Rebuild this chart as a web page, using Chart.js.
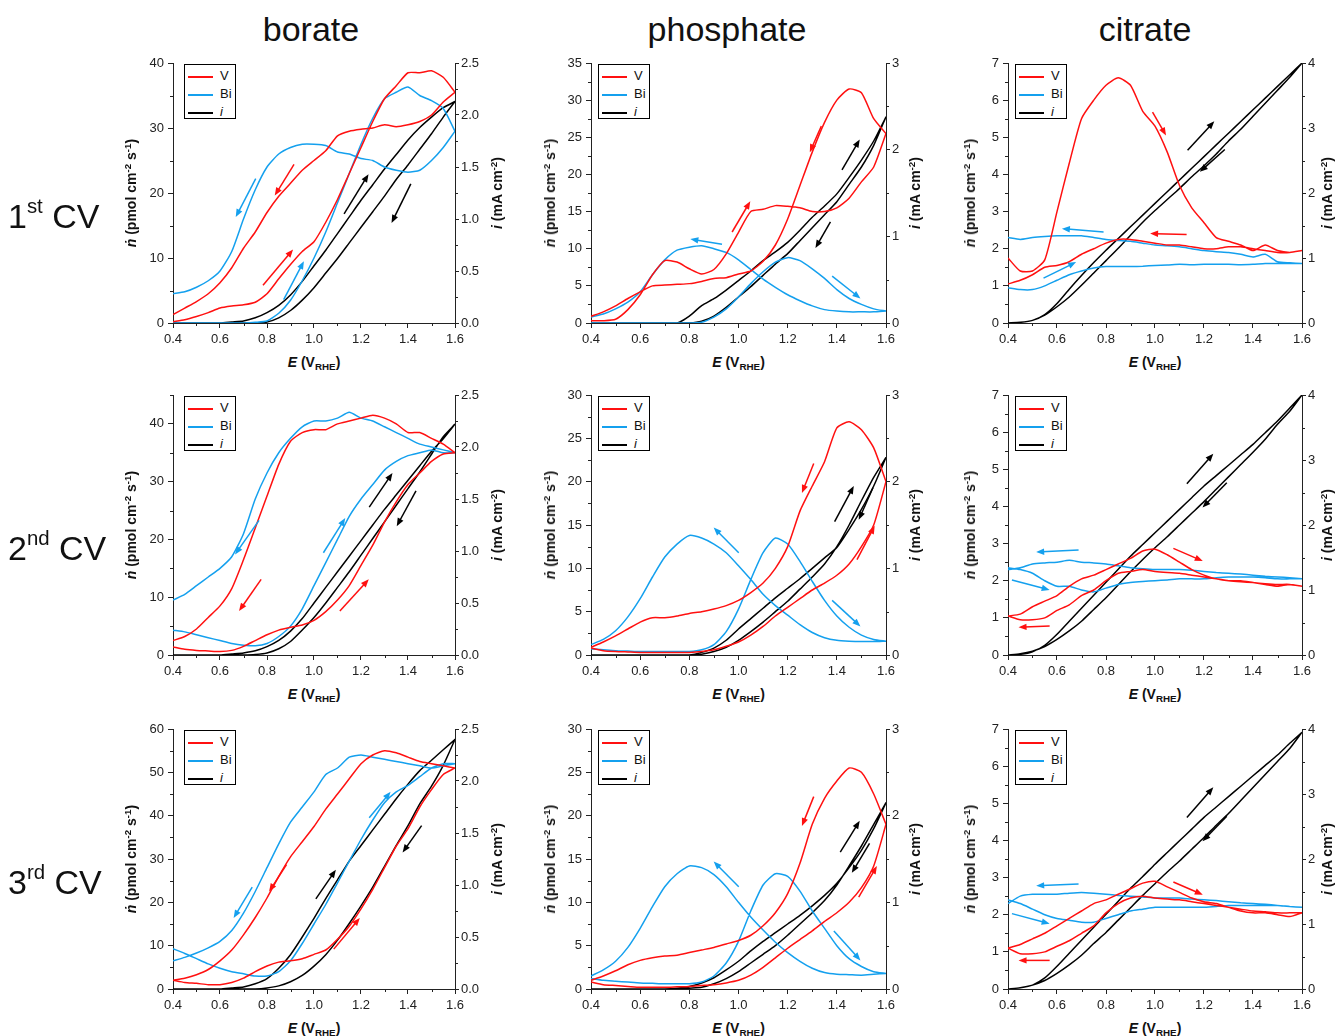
<!DOCTYPE html>
<html lang="en">
<head>
<meta charset="UTF-8">
<title>V / Bi dissolution during CV</title>
<script src="https://cdn.jsdelivr.net/npm/chart.js"></script>
<style>
  body { margin: 0; background: #fff; font-family: "Liberation Sans", Arial, sans-serif; color: #111; }
  #page { position: relative; width: 1336px; height: 1036px; overflow: hidden; }
  canvas { position: absolute; }
  .txt { position: absolute; white-space: nowrap; line-height: 1; }
  .coltitle { font-size: 34px; transform: translateX(-50%); }
  .rowlabel { font-size: 34px; }
  .rowlabel sup { font-size: 60%; vertical-align: 0; position: relative; top: -0.75em; }
  .axtitle { font-size: 14px; font-weight: bold; }
  .axtitle sup { font-size: 70%; vertical-align: 0; position: relative; top: -0.5em; }
  .axtitle sub { font-size: 70%; vertical-align: 0; position: relative; top: 0.3em; }
  .rot { transform: translate(-50%, -50%) rotate(-90deg); }
  .xt { transform: translateX(-50%); }
  .leg { position: absolute; width: 52px; height: 55px; border: 1px solid #000; box-sizing: border-box;
         font-size: 13px; padding-top: 2px; background: #fff; }
  .leg div { height: 18px; line-height: 18px; }
  .sw { display: inline-block; width: 25px; height: 2px; vertical-align: middle; margin: 0 7px 0 3px; }
</style>
</head>
<body>
<div id="page"></div>
<script>
// potential grid (V vs RHE); forward scan 0.4 -> 1.6, reverse scan listed 1.6 -> 0.4
const E = [0.40, 0.45, 0.50, 0.55, 0.60, 0.65, 0.70, 0.75, 0.80, 0.85, 0.90, 0.95, 1.00,
           1.05, 1.10, 1.15, 1.20, 1.25, 1.30, 1.35, 1.40, 1.45, 1.50, 1.55, 1.60];
const E_REV = E.slice().reverse();

// ---- borate, 1st CV ----
const b1_V_fwd  = [0.2, 0.5, 1.0, 1.6, 2.3, 2.6, 2.8, 3.2, 4.5, 6.8, 9.0, 11.0, 12.5, 15.5, 19.0, 23.0, 27.0, 31.0, 34.5, 36.5, 38.5, 38.5, 38.8, 37.8, 35.5];
const b1_V_rev  = [35.5, 34.0, 32.0, 31.0, 30.5, 30.2, 30.5, 30.0, 29.8, 29.5, 28.8, 26.5, 25.0, 23.5, 21.5, 19.5, 17.0, 14.0, 11.5, 8.5, 6.2, 4.5, 3.3, 2.3, 1.3];
const b1_Bi_fwd = [0, 0, 0, 0, 0, 0, 0, 0.1, 0.3, 1.5, 3.5, 6.5, 10.0, 14.0, 18.5, 23.0, 27.5, 31.5, 34.5, 35.5, 36.3, 35.0, 34.2, 33.0, 29.5];
const b1_Bi_rev = [29.5, 27.0, 25.0, 23.5, 23.2, 23.5, 24.0, 25.0, 25.3, 26.0, 26.3, 27.3, 27.5, 27.5, 27.0, 26.0, 24.0, 20.5, 16.0, 11.0, 8.0, 6.5, 5.5, 4.8, 4.5];
const b1_i_fwd  = [0, 0, 0, 0, 0, 0.01, 0.02, 0.05, 0.1, 0.17, 0.27, 0.4, 0.55, 0.7, 0.86, 1.02, 1.18, 1.33, 1.48, 1.62, 1.76, 1.88, 1.98, 2.07, 2.13];
const b1_i_rev  = [2.13, 1.98, 1.82, 1.67, 1.52, 1.38, 1.22, 1.07, 0.92, 0.77, 0.62, 0.48, 0.34, 0.22, 0.12, 0.05, 0.01, 0, 0, 0, 0, 0, 0, 0, 0];
const b1_arrows = [[0.752, 22.2, 0.667, 16.3, 'b'], [0.915, 24.4, 0.833, 19.6, 'r'], [0.783, 5.8, 0.911, 11.3, 'r'],
                   [0.871, 3.6, 0.957, 9.5, 'b'], [1.128, 16.8, 1.232, 22.9, 'k'], [1.412, 21.4, 1.330, 15.4, 'k']];

// ---- phosphate, 1st CV ----
const p1_V_fwd  = [0.3, 0.3, 0.5, 1.8, 3.8, 6.5, 8.4, 8.2, 7.3, 6.6, 7.2, 9.3, 12.2, 15.0, 15.3, 15.8, 15.7, 15.5, 15.0, 15.0, 15.5, 16.8, 19.0, 21.0, 25.5];
const p1_V_rev  = [25.5, 27.5, 31.0, 31.5, 30.0, 27.0, 23.0, 18.5, 14.0, 10.5, 8.3, 7.0, 6.6, 6.1, 6.0, 5.6, 5.3, 5.2, 5.1, 5.0, 4.2, 3.3, 2.3, 1.5, 0.9];
const p1_Bi_fwd = [0, 0, 0, 0, 0, 0, 0, 0, 0, 0.1, 0.8, 1.9, 3.5, 5.3, 6.9, 8.2, 8.8, 8.4, 7.3, 6.0, 4.5, 3.3, 2.5, 1.9, 1.6];
const p1_Bi_rev = [1.6, 1.5, 1.5, 1.5, 1.6, 1.8, 2.3, 3.0, 3.8, 4.8, 5.9, 7.2, 8.5, 9.5, 10.0, 10.4, 10.2, 9.8, 8.5, 6.5, 4.2, 2.8, 1.9, 1.2, 0.8];
const p1_i_fwd  = [0, 0, 0, 0, 0, 0, 0, 0, 0.08, 0.2, 0.28, 0.38, 0.49, 0.6, 0.72, 0.82, 0.93, 1.07, 1.22, 1.35, 1.49, 1.68, 1.88, 2.1, 2.38];
const p1_i_rev  = [2.38, 2.05, 1.8, 1.6, 1.4, 1.25, 1.1, 0.95, 0.8, 0.68, 0.55, 0.42, 0.3, 0.18, 0.08, 0.02, 0, 0, 0, 0, 0, 0, 0, 0, 0];
const p1_arrows = [[0.974, 12.25, 1.048, 16.4, 'r'], [1.337, 26.5, 1.29, 23.0, 'r'], [0.933, 10.6, 0.804, 11.3, 'b'],
                   [1.381, 6.3, 1.496, 3.3, 'b'], [1.421, 20.6, 1.493, 24.7, 'k'], [1.374, 13.6, 1.313, 10.1, 'k']];

// ---- citrate, 1st CV ----
const c1_V_fwd  = [1.75, 1.4, 1.4, 1.7, 3.0, 4.3, 5.5, 6.0, 6.4, 6.6, 6.4, 5.7, 5.3, 4.6, 3.7, 3.1, 2.7, 2.3, 2.2, 2.1, 1.95, 2.1, 1.95, 1.9, 1.95];
const c1_V_rev  = [1.95, 1.9, 1.9, 1.95, 2.0, 2.05, 2.05, 2.0, 2.0, 2.05, 2.1, 2.1, 2.15, 2.2, 2.25, 2.25, 2.15, 2.0, 1.85, 1.65, 1.55, 1.5, 1.3, 1.15, 1.05];
const c1_Bi_fwd = [0.95, 0.9, 0.9, 1.0, 1.15, 1.3, 1.4, 1.48, 1.52, 1.52, 1.52, 1.53, 1.55, 1.56, 1.58, 1.57, 1.58, 1.58, 1.58, 1.57, 1.58, 1.6, 1.6, 1.6, 1.6];
const c1_Bi_rev = [1.6, 1.62, 1.65, 1.85, 1.78, 1.85, 1.9, 1.92, 1.95, 2.0, 2.05, 2.08, 2.1, 2.15, 2.2, 2.22, 2.25, 2.3, 2.35, 2.35, 2.35, 2.33, 2.3, 2.25, 2.3];
const c1_i_fwd  = [0, 0.01, 0.04, 0.13, 0.3, 0.52, 0.73, 0.93, 1.12, 1.3, 1.48, 1.66, 1.84, 2.02, 2.2, 2.38, 2.56, 2.74, 2.92, 3.1, 3.28, 3.46, 3.64, 3.82, 4.0];
const c1_i_rev  = [4.0, 3.78, 3.58, 3.38, 3.18, 2.98, 2.8, 2.6, 2.42, 2.25, 2.07, 1.9, 1.73, 1.55, 1.35, 1.15, 0.96, 0.77, 0.58, 0.4, 0.25, 0.12, 0.04, 0.01, 0];
const c1_arrows = [[0.99, 5.68, 1.045, 5.05, 'r'], [1.129, 2.38, 0.98, 2.41, 'r'], [0.79, 2.45, 0.62, 2.54, 'b'],
                   [0.545, 1.21, 0.678, 1.64, 'b'], [1.133, 4.65, 1.242, 5.43, 'k'], [1.285, 4.67, 1.183, 4.07, 'k']];

// ---- borate, 2nd CV ----
const b2_V_fwd  = [1.4, 1.0, 0.8, 0.7, 0.6, 0.8, 1.5, 2.5, 3.5, 4.3, 4.8, 5.2, 6.0, 7.5, 9.5, 12.0, 15.5, 19.0, 23.0, 26.5, 29.5, 31.5, 33.5, 34.8, 35.0];
const b2_V_rev  = [35.0, 36.5, 37.5, 38.5, 38.5, 40.0, 41.0, 41.5, 41.0, 40.5, 40.0, 39.0, 39.0, 38.5, 37.0, 33.0, 27.5, 22.0, 16.5, 11.5, 8.5, 6.5, 4.5, 3.2, 2.5];
const b2_Bi_fwd = [4.3, 4.0, 3.5, 3.0, 2.5, 2.0, 1.7, 1.6, 2.0, 3.2, 5.0, 8.0, 12.0, 16.0, 20.0, 24.0, 27.0, 29.5, 32.0, 33.5, 34.5, 35.0, 35.5, 35.0, 35.0];
const b2_Bi_rev = [35.0, 35.5, 36.0, 36.5, 37.5, 38.5, 39.5, 40.5, 41.0, 42.0, 41.0, 40.5, 40.5, 39.5, 37.5, 35.0, 31.5, 27.0, 21.0, 17.0, 15.0, 13.5, 12.0, 10.5, 9.5];
const b2_i_fwd  = [0, 0, 0, 0, 0, 0.01, 0.02, 0.04, 0.08, 0.14, 0.23, 0.35, 0.5, 0.65, 0.8, 0.95, 1.1, 1.25, 1.4, 1.54, 1.68, 1.82, 1.96, 2.08, 2.22];
const b2_i_rev  = [2.22, 2.1, 1.93, 1.76, 1.6, 1.44, 1.28, 1.12, 0.96, 0.8, 0.65, 0.5, 0.36, 0.24, 0.13, 0.06, 0.02, 0.005, 0, 0, 0, 0, 0, 0, 0];
const b2_arrows = [[0.775, 13.1, 0.681, 7.6, 'r'], [1.11, 7.6, 1.233, 13.1, 'r'], [0.766, 23.3, 0.664, 17.4, 'b'],
                   [1.04, 17.7, 1.133, 23.7, 'b'], [1.235, 25.6, 1.334, 31.5, 'k'], [1.434, 28.4, 1.352, 22.3, 'k']];

// ---- phosphate, 2nd CV ----
const p2_V_fwd  = [0.8, 0.5, 0.4, 0.35, 0.3, 0.3, 0.3, 0.3, 0.3, 0.4, 0.6, 1.0, 1.5, 2.3, 3.3, 4.5, 5.5, 6.5, 7.5, 8.3, 9.2, 10.5, 12.5, 15.0, 20.0];
const p2_V_rev  = [20.0, 23.9, 26.0, 26.9, 26.2, 22.3, 19.5, 16.6, 12.5, 10.0, 8.3, 7.2, 6.3, 5.7, 5.3, 5.0, 4.8, 4.5, 4.3, 4.3, 3.8, 3.0, 2.2, 1.5, 0.9];
const p2_Bi_fwd = [0.7, 0.6, 0.5, 0.45, 0.4, 0.4, 0.4, 0.4, 0.4, 0.6, 1.2, 2.7, 5.3, 8.7, 11.8, 13.5, 12.8, 10.8, 8.5, 6.3, 4.5, 3.2, 2.3, 1.8, 1.6];
const p2_Bi_rev = [1.6, 1.55, 1.55, 1.6, 1.7, 2.0, 2.6, 3.5, 4.6, 5.7, 7.0, 8.7, 10.3, 11.8, 12.8, 13.5, 13.8, 12.8, 11.3, 9.0, 6.5, 4.4, 2.8, 1.8, 1.2];
const p2_i_fwd  = [0, 0, 0, 0, 0, 0, 0, 0, 0, 0.03, 0.08, 0.17, 0.3, 0.42, 0.54, 0.66, 0.77, 0.88, 1.0, 1.12, 1.24, 1.45, 1.68, 1.95, 2.28];
const p2_i_rev  = [2.28, 2.05, 1.78, 1.5, 1.25, 1.05, 0.9, 0.76, 0.62, 0.5, 0.38, 0.27, 0.17, 0.09, 0.04, 0.01, 0, 0, 0, 0, 0, 0, 0, 0, 0];
const p2_arrows = [[1.306, 22.1, 1.258, 18.7, 'r'], [1.482, 11.0, 1.554, 14.9, 'r'], [1.001, 11.8, 0.899, 14.7, 'b'],
                   [1.381, 6.3, 1.496, 3.3, 'b'], [1.391, 15.4, 1.469, 19.5, 'k'], [1.547, 19.3, 1.489, 15.6, 'k']];

// ---- citrate, 2nd CV ----
const c2_V_fwd  = [1.05, 1.1, 1.3, 1.45, 1.6, 1.85, 2.05, 2.15, 2.3, 2.45, 2.6, 2.8, 2.85, 2.7, 2.5, 2.3, 2.15, 2.05, 2.0, 2.0, 1.95, 1.9, 1.85, 1.9, 1.85];
const c2_V_rev  = [1.85, 1.9, 1.9, 1.92, 1.95, 1.97, 2.0, 2.05, 2.1, 2.15, 2.2, 2.22, 2.25, 2.3, 2.25, 2.2, 2.0, 1.75, 1.6, 1.35, 1.2, 1.0, 0.95, 0.95, 1.05];
const c2_Bi_fwd = [2.35, 2.3, 2.2, 2.0, 1.85, 1.85, 1.75, 1.7, 1.8, 1.9, 1.95, 1.98, 2.0, 2.02, 2.05, 2.05, 2.05, 2.08, 2.1, 2.1, 2.1, 2.08, 2.05, 2.05, 2.05];
const c2_Bi_rev = [2.05, 2.08, 2.1, 2.12, 2.15, 2.18, 2.2, 2.22, 2.25, 2.28, 2.3, 2.3, 2.3, 2.32, 2.35, 2.4, 2.45, 2.48, 2.5, 2.55, 2.5, 2.48, 2.45, 2.35, 2.3];
const c2_i_fwd  = [0, 0.01, 0.05, 0.15, 0.32, 0.52, 0.72, 0.92, 1.12, 1.32, 1.52, 1.7, 1.88, 2.06, 2.24, 2.42, 2.6, 2.76, 2.92, 3.08, 3.24, 3.42, 3.6, 3.8, 4.0];
const c2_i_rev  = [4.0, 3.75, 3.55, 3.32, 3.12, 2.93, 2.74, 2.55, 2.36, 2.18, 2.0, 1.82, 1.65, 1.47, 1.28, 1.08, 0.88, 0.7, 0.52, 0.37, 0.24, 0.13, 0.06, 0.02, 0];
const c2_arrows = [[1.075, 2.87, 1.195, 2.53, 'r'], [0.57, 0.78, 0.443, 0.75, 'r'], [0.688, 2.83, 0.515, 2.77, 'b'],
                   [0.416, 2.02, 0.57, 1.75, 'b'], [1.13, 4.61, 1.238, 5.42, 'k'], [1.293, 4.64, 1.194, 3.97, 'k']];

// ---- borate, 3rd CV ----
const b3_V_fwd  = [2.0, 1.5, 1.3, 1.0, 1.0, 1.5, 2.5, 4.0, 5.3, 6.2, 6.5, 7.0, 8.0, 9.0, 11.5, 14.5, 18.5, 23.0, 28.0, 33.0, 37.0, 42.0, 46.0, 49.5, 51.0];
const b3_V_rev  = [51.0, 51.5, 52.0, 52.5, 53.5, 54.5, 55.0, 54.0, 52.0, 48.5, 45.0, 41.5, 37.5, 34.0, 30.5, 26.0, 21.0, 16.5, 12.5, 9.0, 6.5, 4.5, 3.3, 2.5, 2.0];
const b3_Bi_fwd = [9.3, 8.2, 7.0, 5.8, 4.8, 4.0, 3.5, 3.0, 3.0, 4.0, 6.5, 10.5, 15.0, 19.5, 24.5, 29.5, 34.5, 39.0, 43.0, 45.5, 47.0, 49.0, 51.0, 52.0, 52.0];
const b3_Bi_rev = [52.0, 51.5, 51.0, 51.5, 52.0, 52.5, 53.0, 53.5, 54.0, 53.5, 51.0, 49.5, 45.5, 42.0, 38.5, 33.5, 28.0, 22.5, 17.5, 13.5, 11.0, 9.5, 8.3, 7.3, 6.5];
const b3_i_fwd  = [0, 0, 0, 0, 0, 0.01, 0.02, 0.05, 0.1, 0.2, 0.33, 0.5, 0.68, 0.87, 1.05, 1.23, 1.38, 1.53, 1.68, 1.83, 1.97, 2.1, 2.2, 2.3, 2.4];
const b3_i_rev  = [2.4, 2.15, 1.95, 1.78, 1.57, 1.38, 1.18, 0.98, 0.8, 0.63, 0.47, 0.33, 0.22, 0.13, 0.07, 0.03, 0.01, 0, 0, 0, 0, 0, 0, 0, 0];
const b3_arrows = [[0.883, 28.7, 0.809, 22.5, 'r'], [1.084, 9.2, 1.195, 16.4, 'r'], [0.737, 23.5, 0.658, 16.4, 'b'],
                   [1.235, 39.5, 1.326, 45.5, 'b'], [1.008, 20.8, 1.093, 27.5, 'k'], [1.458, 37.7, 1.377, 31.5, 'k']];

// ---- phosphate, 3rd CV ----
const p3_V_fwd  = [0.8, 0.5, 0.4, 0.3, 0.2, 0.2, 0.2, 0.25, 0.3, 0.4, 0.5, 0.7, 1.0, 1.6, 2.5, 3.6, 4.7, 5.7, 6.7, 7.8, 8.8, 10.0, 11.7, 14.2, 19.0];
const p3_V_rev  = [19.0, 22.5, 25.0, 25.5, 24.0, 22.0, 19.0, 14.5, 11.0, 8.8, 7.3, 6.2, 5.6, 5.2, 4.8, 4.5, 4.2, 3.9, 3.8, 3.6, 3.3, 2.8, 2.1, 1.5, 1.0];
const p3_Bi_fwd = [1.2, 1.0, 0.9, 0.8, 0.7, 0.65, 0.6, 0.6, 0.6, 0.8, 1.5, 3.0, 5.5, 9.0, 12.0, 13.3, 13.0, 11.3, 9.0, 7.0, 5.0, 3.5, 2.6, 2.0, 1.8];
const p3_Bi_rev = [1.8, 1.7, 1.6, 1.65, 1.7, 1.9, 2.4, 3.2, 4.2, 5.4, 6.8, 8.3, 10.0, 11.8, 13.2, 14.0, 14.2, 13.3, 11.8, 9.5, 7.0, 4.8, 3.2, 2.2, 1.5];
const p3_i_fwd  = [0, 0, 0, 0, 0, 0, 0, 0.01, 0.03, 0.07, 0.13, 0.22, 0.32, 0.44, 0.55, 0.65, 0.75, 0.85, 0.96, 1.08, 1.22, 1.4, 1.6, 1.85, 2.15];
const p3_i_rev  = [2.15, 1.9, 1.65, 1.42, 1.2, 1.02, 0.88, 0.75, 0.62, 0.5, 0.4, 0.3, 0.2, 0.12, 0.06, 0.02, 0.01, 0, 0, 0, 0, 0, 0, 0, 0];
const p3_arrows = [[1.306, 22.2, 1.258, 18.8, 'r'], [1.489, 10.6, 1.563, 14.2, 'r'], [1.001, 11.8, 0.899, 14.7, 'b'],
                   [1.388, 6.7, 1.496, 3.3, 'b'], [1.414, 15.8, 1.493, 19.4, 'k'], [1.533, 16.8, 1.461, 13.4, 'k']];

// ---- citrate, 3rd CV ----
const c3_V_fwd  = [1.1, 1.2, 1.35, 1.5, 1.7, 1.9, 2.1, 2.3, 2.4, 2.55, 2.7, 2.85, 2.9, 2.75, 2.6, 2.45, 2.35, 2.3, 2.2, 2.1, 2.05, 2.05, 2.0, 1.95, 2.05];
const c3_V_rev  = [2.05, 2.05, 2.05, 2.08, 2.1, 2.15, 2.2, 2.25, 2.3, 2.35, 2.4, 2.42, 2.45, 2.5, 2.45, 2.3, 2.05, 1.7, 1.5, 1.3, 1.15, 1.0, 0.95, 0.95, 1.1];
const c3_Bi_fwd = [2.4, 2.3, 2.15, 2.0, 1.9, 1.85, 1.8, 1.8, 1.9, 2.0, 2.1, 2.15, 2.2, 2.2, 2.2, 2.2, 2.2, 2.22, 2.25, 2.25, 2.25, 2.25, 2.25, 2.22, 2.2];
const c3_Bi_rev = [2.2, 2.22, 2.25, 2.28, 2.3, 2.32, 2.35, 2.38, 2.4, 2.42, 2.45, 2.45, 2.45, 2.48, 2.5, 2.52, 2.55, 2.58, 2.6, 2.58, 2.55, 2.55, 2.55, 2.5, 2.3];
const c3_i_fwd  = [0, 0.02, 0.06, 0.17, 0.35, 0.55, 0.75, 0.95, 1.15, 1.35, 1.55, 1.73, 1.92, 2.1, 2.28, 2.46, 2.64, 2.8, 2.96, 3.12, 3.28, 3.44, 3.6, 3.78, 3.95];
const c3_i_rev  = [3.95, 3.7, 3.5, 3.3, 3.1, 2.9, 2.7, 2.52, 2.33, 2.15, 1.97, 1.8, 1.62, 1.44, 1.25, 1.06, 0.87, 0.7, 0.52, 0.37, 0.24, 0.13, 0.06, 0.02, 0];
const c3_arrows = [[1.075, 2.88, 1.195, 2.54, 'r'], [0.57, 0.77, 0.443, 0.77, 'r'], [0.688, 2.83, 0.515, 2.78, 'b'],
                   [0.416, 2.03, 0.57, 1.76, 'b'], [1.13, 4.62, 1.238, 5.43, 'k'], [1.293, 4.65, 1.194, 3.98, 'k']];

// tick labels
const xTicks = [0.4, 0.6, 0.8, 1.0, 1.2, 1.4, 1.6];
const borateTicks = [0, 10, 20, 30, 40];
const borate3Ticks = [0, 10, 20, 30, 40, 50, 60];
const borateCurTicks = [0, 0.5, 1.0, 1.5, 2.0, 2.5];
const phos1Ticks = [0, 5, 10, 15, 20, 25, 30, 35];
const phosTicks = [0, 5, 10, 15, 20, 25, 30];
const phosCurTicks = [0, 1, 2, 3];
const citTicks = [0, 1, 2, 3, 4, 5, 6, 7];
const citCurTicks = [0, 1, 2, 3, 4];

const columns = ['borate', 'phosphate', 'citrate'];
const rowNames = [['1', 'st'], ['2', 'nd'], ['3', 'rd']];

const RED = '#ff1010', BLUE = '#14a0ee', BLACK = '#000000', AXIS = '#222222';
const ARROW_COL = { r: RED, b: BLUE, k: BLACK };
const FONT = '"Liberation Sans", Arial, sans-serif';

// page layout (pixels)
const colLeft = [173, 591, 1008], colWidth = [282, 295, 294];
const rowTop = [63, 395, 729], plotH = 260;
const colTitleX = [311, 727, 1145];
const legendDx = [11, 7, 7], leftTitleDx = [42, 41, 38], rightTitleDx = [42, 29, 25];
const PAD_L = 50, PAD_R = 50, PAD_T = 12, PAD_B = 26;

const panels = [
  { r: 0, c: 0, V: [b1_V_fwd, b1_V_rev], Bi: [b1_Bi_fwd, b1_Bi_rev], I: [b1_i_fwd, b1_i_rev], arrows: b1_arrows,
    yMax: 40, yTicks: borateTicks, yMinor: 5, y2Max: 2.5, y2Ticks: borateCurTicks, y2Minor: 0.25, y2Dec: 1 },
  { r: 0, c: 1, V: [p1_V_fwd, p1_V_rev], Bi: [p1_Bi_fwd, p1_Bi_rev], I: [p1_i_fwd, p1_i_rev], arrows: p1_arrows,
    yMax: 35, yTicks: phos1Ticks, yMinor: 2.5, y2Max: 3, y2Ticks: phosCurTicks, y2Minor: 0.5, y2Dec: 0 },
  { r: 0, c: 2, V: [c1_V_fwd, c1_V_rev], Bi: [c1_Bi_fwd, c1_Bi_rev], I: [c1_i_fwd, c1_i_rev], arrows: c1_arrows,
    yMax: 7, yTicks: citTicks, yMinor: 0.5, y2Max: 4, y2Ticks: citCurTicks, y2Minor: 0.5, y2Dec: 0 },
  { r: 1, c: 0, V: [b2_V_fwd, b2_V_rev], Bi: [b2_Bi_fwd, b2_Bi_rev], I: [b2_i_fwd, b2_i_rev], arrows: b2_arrows,
    yMax: 45, yTicks: borateTicks, yMinor: 5, y2Max: 2.5, y2Ticks: borateCurTicks, y2Minor: 0.25, y2Dec: 1 },
  { r: 1, c: 1, V: [p2_V_fwd, p2_V_rev], Bi: [p2_Bi_fwd, p2_Bi_rev], I: [p2_i_fwd, p2_i_rev], arrows: p2_arrows,
    yMax: 30, yTicks: phosTicks, yMinor: 2.5, y2Max: 3, y2Ticks: phosCurTicks, y2Minor: 0.5, y2Dec: 0 },
  { r: 1, c: 2, V: [c2_V_fwd, c2_V_rev], Bi: [c2_Bi_fwd, c2_Bi_rev], I: [c2_i_fwd, c2_i_rev], arrows: c2_arrows,
    yMax: 7, yTicks: citTicks, yMinor: 0.5, y2Max: 4, y2Ticks: citCurTicks, y2Minor: 0.5, y2Dec: 0 },
  { r: 2, c: 0, V: [b3_V_fwd, b3_V_rev], Bi: [b3_Bi_fwd, b3_Bi_rev], I: [b3_i_fwd, b3_i_rev], arrows: b3_arrows,
    yMax: 60, yTicks: borate3Ticks, yMinor: 5, y2Max: 2.5, y2Ticks: borateCurTicks, y2Minor: 0.25, y2Dec: 1 },
  { r: 2, c: 1, V: [p3_V_fwd, p3_V_rev], Bi: [p3_Bi_fwd, p3_Bi_rev], I: [p3_i_fwd, p3_i_rev], arrows: p3_arrows,
    yMax: 30, yTicks: phosTicks, yMinor: 2.5, y2Max: 3, y2Ticks: phosCurTicks, y2Minor: 0.5, y2Dec: 0 },
  { r: 2, c: 2, V: [c3_V_fwd, c3_V_rev], Bi: [c3_Bi_fwd, c3_Bi_rev], I: [c3_i_fwd, c3_i_rev], arrows: c3_arrows,
    yMax: 7, yTicks: citTicks, yMinor: 0.5, y2Max: 4, y2Ticks: citCurTicks, y2Minor: 0.5, y2Dec: 0 }
];

const page = document.getElementById('page');

function addText(html, x, y, cls) {
  const d = document.createElement('div');
  d.className = 'txt ' + cls;
  d.style.left = x + 'px';
  d.style.top = y + 'px';
  d.innerHTML = html;
  page.appendChild(d);
  return d;
}

// forward scan followed by reverse scan, as one closed CV trace
function loop(fwd, rev) {
  return E.map((x, k) => ({ x: x, y: fwd[k] })).concat(E_REV.map((x, k) => ({ x: x, y: rev[k] })));
}

// minor tick marks half way between the labelled ones
function minorTicksPlugin(steps) {
  return {
    id: 'minorTicks',
    afterDraw(chart) {
      const ctx = chart.ctx, area = chart.chartArea;
      ctx.save();
      ctx.strokeStyle = AXIS;
      ctx.lineWidth = 1;
      for (const id in steps) {
        const s = chart.scales[id], step = steps[id];
        const n = Math.round((s.max - s.min) / step);
        for (let k = 0; k <= n; k++) {
          if (k % 2 === 0) continue;
          const p = Math.round(s.getPixelForValue(s.min + k * step)) + 0.5;
          ctx.beginPath();
          if (id === 'x') { ctx.moveTo(p, area.bottom); ctx.lineTo(p, area.bottom + 3); }
          else if (id === 'y') { ctx.moveTo(area.left, p); ctx.lineTo(area.left - 3, p); }
          else { ctx.moveTo(area.right, p); ctx.lineTo(area.right + 3, p); }
          ctx.stroke();
        }
      }
      ctx.restore();
    }
  };
}

// scan direction arrows, given in (E, left-axis) units
function arrowsPlugin(list) {
  return {
    id: 'cvArrows',
    afterDatasetsDraw(chart) {
      const ctx = chart.ctx, xs = chart.scales.x, ys = chart.scales.y;
      ctx.save();
      list.forEach(a => {
        const x1 = xs.getPixelForValue(a[0]), y1 = ys.getPixelForValue(a[1]);
        const x2 = xs.getPixelForValue(a[2]), y2 = ys.getPixelForValue(a[3]);
        const ang = Math.atan2(y2 - y1, x2 - x1), L = 8, W = 3.2;
        const ca = Math.cos(ang), sa = Math.sin(ang);
        ctx.strokeStyle = ARROW_COL[a[4]];
        ctx.fillStyle = ARROW_COL[a[4]];
        ctx.lineWidth = 1.5;
        ctx.beginPath();
        ctx.moveTo(x1, y1);
        ctx.lineTo(x2 - L * 0.7 * ca, y2 - L * 0.7 * sa);
        ctx.stroke();
        ctx.beginPath();
        ctx.moveTo(x2, y2);
        ctx.lineTo(x2 - L * ca + W * sa, y2 - L * sa - W * ca);
        ctx.lineTo(x2 - L * ca - W * sa, y2 - L * sa + W * ca);
        ctx.closePath();
        ctx.fill();
      });
      ctx.restore();
    }
  };
}

function axis(position, min, max, ticks, dec, fitFn, tickLen, pad) {
  return {
    type: 'linear', position: position, min: min, max: max,
    afterBuildTicks: s => { s.ticks = ticks.map(v => ({ value: v })); },
    afterFit: fitFn,
    ticks: {
      callback: v => Number(v).toFixed(dec),
      font: { family: FONT, size: 13 }, color: AXIS, padding: pad,
      autoSkip: false, maxRotation: 0
    },
    grid: { drawOnChartArea: false, drawTicks: true, tickLength: tickLen, color: AXIS, lineWidth: 1 },
    border: { display: true, color: AXIS, width: 1 }
  };
}

panels.forEach(p => {
  const left = colLeft[p.c], top = rowTop[p.r], w = colWidth[p.c];
  const cv = document.createElement('canvas');
  cv.width = w + PAD_L + PAD_R;
  cv.height = plotH + PAD_T + PAD_B;
  cv.style.left = (left - PAD_L) + 'px';
  cv.style.top = (top - PAD_T) + 'px';
  page.appendChild(cv);

  const line = { pointRadius: 0, borderWidth: 1.5, tension: 0.2, fill: false };
  new Chart(cv, {
    type: 'line',
    data: {
      datasets: [
        Object.assign({ label: 'V', data: loop(p.V[0], p.V[1]), borderColor: RED, yAxisID: 'y' }, line),
        Object.assign({ label: 'Bi', data: loop(p.Bi[0], p.Bi[1]), borderColor: BLUE, yAxisID: 'y' }, line),
        Object.assign({ label: 'i', data: loop(p.I[0], p.I[1]), borderColor: BLACK, yAxisID: 'y2' }, line)
      ]
    },
    options: {
      responsive: false, animation: false, devicePixelRatio: 1,
      layout: { padding: { top: PAD_T, left: 0, right: 0, bottom: 0 } },
      plugins: { legend: { display: false }, tooltip: { enabled: false } },
      scales: {
        x: axis('bottom', 0.4, 1.6, xTicks, 1, s => { s.height = PAD_B; }, 5, 4),
        y: axis('left', 0, p.yMax, p.yTicks, 0, s => { s.width = PAD_L; }, 5, 4),
        y2: axis('right', 0, p.y2Max, p.y2Ticks, p.y2Dec, s => { s.width = PAD_R; }, 4, 2)
      }
    },
    plugins: [minorTicksPlugin({ x: 0.1, y: p.yMinor, y2: p.y2Minor }), arrowsPlugin(p.arrows)]
  });

  // legend box
  const leg = document.createElement('div');
  leg.className = 'leg';
  leg.style.left = (left + legendDx[p.c]) + 'px';
  leg.style.top = (top + 1) + 'px';
  leg.innerHTML =
    '<div><span class="sw" style="background:' + RED + '"></span>V</div>' +
    '<div><span class="sw" style="background:' + BLUE + '"></span>Bi</div>' +
    '<div><span class="sw" style="background:' + BLACK + '"></span><i>i</i></div>';
  page.appendChild(leg);

  // axis titles
  addText('<i>ṅ</i> (pmol cm<sup>-2</sup> s<sup>-1</sup>)', left - leftTitleDx[p.c], top + plotH / 2, 'axtitle rot');
  addText('<i>i</i> (mA cm<sup>-2</sup>)', left + w + rightTitleDx[p.c], top + plotH / 2, 'axtitle rot');
  addText('<i>E</i> (V<sub>RHE</sub>)', left + w / 2, top + plotH + 32, 'axtitle xt');
});

// column headers and row labels
columns.forEach((name, c) => addText(name, colTitleX[c], 12, 'coltitle'));
rowNames.forEach((rn, r) => addText(rn[0] + '<sup>' + rn[1] + '</sup> CV', 8, rowTop[r] + 136, 'rowlabel'));
</script>
</body>
</html>
